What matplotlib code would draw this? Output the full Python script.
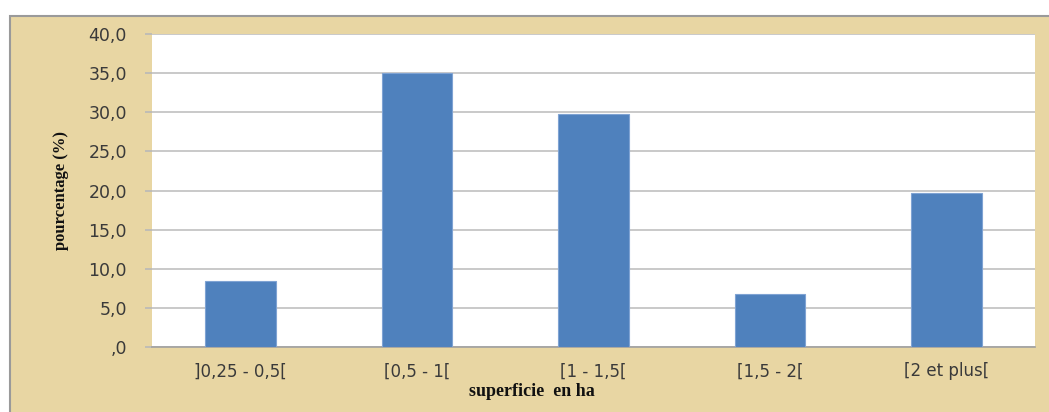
import matplotlib
matplotlib.use("Agg")
import matplotlib.pyplot as plt
from matplotlib.patches import Rectangle
from matplotlib.ticker import FuncFormatter

categories = [']0,25 - 0,5[', '[0,5 - 1[', '[1 - 1,5[', '[1,5 - 2[', '[2 et plus[']
values = [8.4, 35.0, 29.8, 6.8, 19.7]
yticks = [0, 5, 10, 15, 20, 25, 30, 35, 40]

W, H = 1049, 412
fig = plt.figure(figsize=(W / 100, H / 100), dpi=100)
fig.patch.set_facecolor('white')

# papyrus-like frame
frame = Rectangle((10 / W, -0.01), 1.0, (H - 16) / H + 0.01, transform=fig.transFigure,
                  facecolor='#e8d6a3', edgecolor='#9a9a9a', linewidth=1.5, zorder=-10)
fig.add_artist(frame)

x0, x1, ytop, ybot = 152, 1035, 34, 347
ax = fig.add_axes([x0 / W, 1 - ybot / H, (x1 - x0) / W, (ybot - ytop) / H])
ax.set_zorder(1)
ax.set_facecolor('white')

x = range(len(categories))
ax.bar(x, values, width=0.4, color='#4f81bd', edgecolor='#7fa3d3', linewidth=0.8, zorder=3)

ax.set_xlim(-0.5, len(categories) - 0.5)
ax.set_ylim(0, 40)
ax.set_yticks(yticks)


def fmt(v, pos):
    if v == 0:
        return ',0'
    return f'{v:.1f}'.replace('.', ',')


ax.yaxis.set_major_formatter(FuncFormatter(fmt))
ax.set_xticks(list(x))
ax.set_xticklabels(categories)

ax.grid(axis='y', color='#c0c0c0', linewidth=1.2, zorder=0)
ax.set_axisbelow(True)
for s in ['top', 'right', 'left']:
    ax.spines[s].set_visible(False)
ax.spines['bottom'].set_color('#a0a0a0')
ax.spines['bottom'].set_linewidth(1.2)

ax.tick_params(axis='y', length=5, color='#b8b8b8', width=1.2, pad=13,
               labelsize=12.5, labelcolor='#3a3a3a')
ax.tick_params(axis='x', length=0, pad=11, labelsize=12, labelcolor='#3a3a3a')

ax.set_ylabel('pourcentage (%)', family='Liberation Serif', fontweight='bold',
              fontsize=12, color='#111111')
ax.yaxis.set_label_coords((61 - x0) / (x1 - x0), 0.5 + (347 - 190) / (ybot - ytop) - 0.5)
ax.set_xlabel('superficie  en ha', family='Liberation Serif', fontweight='bold',
              fontsize=13, color='#111111')
ax.xaxis.set_label_coords((532 - x0) / (x1 - x0), -(392 - ybot) / (ybot - ytop))
ax.xaxis.label.set_verticalalignment('center')
ax.yaxis.label.set_verticalalignment('center')

fig.savefig('out.png', dpi=100)
